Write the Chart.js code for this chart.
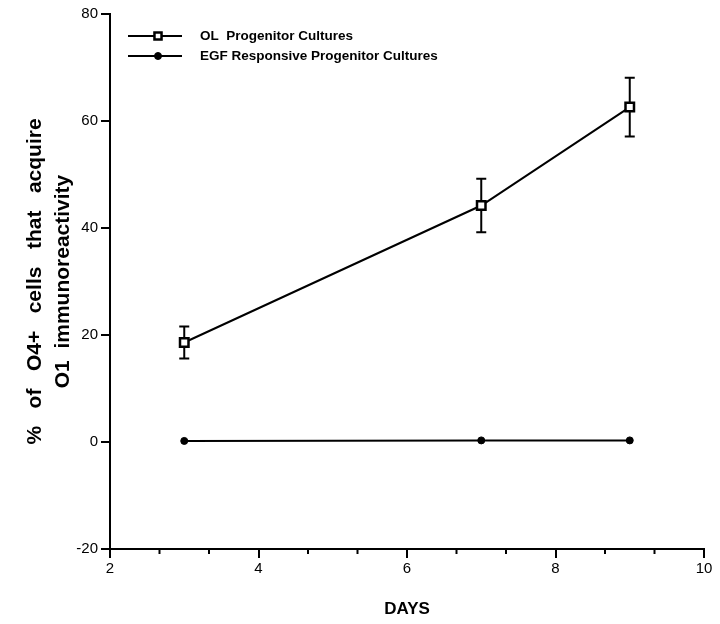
<!DOCTYPE html>
<html>
<head>
<meta charset="utf-8">
<script src="https://cdn.jsdelivr.net/npm/chart.js@4.4.0/dist/chart.umd.min.js"></script>
<style>
  html, body { margin: 0; padding: 0; background: #fff; }
  #wrap { width: 720px; height: 624px; }
</style>
</head>
<body>
<div id="wrap"><canvas id="chart" width="720" height="624"></canvas></div>
<script>
// Data
const days = [3, 7, 9];
const olProgenitor = [18.6, 44.2, 62.6];
const olError = [3.0, 5.0, 5.5];
const egfProgenitor = [0.2, 0.3, 0.3];
const seriesNames = ["OL  Progenitor Cultures", "EGF Responsive Progenitor Cultures"];
const yTitle = ["%   of   O4+   cells   that   acquire", "O1  immunoreactivity"];
const xTitle = "DAYS";

const FONT = "'Liberation Sans', Arial, Helvetica, sans-serif";

// error bars for the OL series
const errorBars = {
  id: "errorBars",
  beforeDatasetsDraw(chart) {
    const { ctx, scales: { x, y } } = chart;
    ctx.save();
    ctx.strokeStyle = "#000";
    ctx.lineWidth = 2;
    days.forEach((d, i) => {
      const px = x.getPixelForValue(d);
      const top = y.getPixelForValue(olProgenitor[i] + olError[i]);
      const bot = y.getPixelForValue(olProgenitor[i] - olError[i]);
      ctx.beginPath();
      ctx.moveTo(px, top); ctx.lineTo(px, bot);
      ctx.moveTo(px - 5, top); ctx.lineTo(px + 5, top);
      ctx.moveTo(px - 5, bot); ctx.lineTo(px + 5, bot);
      ctx.stroke();
    });
    ctx.restore();
  }
};

// minor ticks on the x axis, and the legend inside the plot
const extras = {
  id: "extras",
  afterDraw(chart) {
    const { ctx, scales: { x }, chartArea } = chart;
    ctx.save();
    ctx.strokeStyle = "#000";
    ctx.lineWidth = 2;
    for (let k = 1; k < 12; k++) {
      if (k % 3 === 0) continue;
      const px = x.getPixelForValue(2 + k * 2 / 3);
      ctx.beginPath();
      ctx.moveTo(px, chartArea.bottom);
      ctx.lineTo(px, chartArea.bottom + 5);
      ctx.stroke();
    }

    // legend
    chart.data.datasets.forEach((ds, i) => {
      const ly = chartArea.top + 22 + i * 20;
      const lx = chartArea.left + 18;
      ctx.strokeStyle = "#000";
      ctx.lineWidth = 2;
      ctx.beginPath();
      ctx.moveTo(lx, ly); ctx.lineTo(lx + 54, ly);
      ctx.stroke();
      ctx.fillStyle = ds.pointBackgroundColor;
      ctx.strokeStyle = ds.pointBorderColor;
      ctx.lineWidth = ds.pointBorderWidth;
      const r = ds.pointStyle === "rect" ? ds.pointRadius - 1 : ds.pointRadius;
      Chart.helpers.drawPoint(ctx, { pointStyle: ds.pointStyle, radius: r, borderWidth: ds.pointBorderWidth, rotation: 0 }, lx + 30, ly);
      ctx.fillStyle = "#000";
      ctx.font = "bold 13.5px " + FONT;
      ctx.textBaseline = "middle";
      ctx.fillText(ds.label, lx + 72, ly);
    });
    ctx.restore();
  }
};

new Chart(document.getElementById("chart"), {
  type: "line",
  data: {
    datasets: [
      {
        label: seriesNames[0],
        data: days.map((d, i) => ({ x: d, y: olProgenitor[i] })),
        borderColor: "#000",
        borderWidth: 2,
        pointStyle: "rect",
        pointRadius: 6,
        pointBorderWidth: 2.5,
        pointBackgroundColor: "#fff",
        pointBorderColor: "#000",
        tension: 0
      },
      {
        label: seriesNames[1],
        data: days.map((d, i) => ({ x: d, y: egfProgenitor[i] })),
        borderColor: "#000",
        borderWidth: 2,
        pointStyle: "circle",
        pointRadius: 3.5,
        pointBorderWidth: 1,
        pointBackgroundColor: "#000",
        pointBorderColor: "#000",
        tension: 0
      }
    ]
  },
  options: {
    responsive: false,
    animation: false,
    layout: { padding: { left: 0, right: 16, top: 14, bottom: 0 } },
    plugins: { legend: { display: false }, tooltip: { enabled: false } },
    scales: {
      x: {
        type: "linear",
        min: 2, max: 10,
        afterFit(scale) { scale.height = 75; },
        ticks: { stepSize: 2, color: "#000", font: { family: FONT, size: 15 }, padding: 2 },
        grid: { drawOnChartArea: false, color: "#000", lineWidth: 2, tickLength: 9 },
        border: { color: "#000", width: 2 },
        title: { display: true, text: xTitle, color: "#000", font: { family: FONT, size: 17, weight: "bold" }, padding: { top: 14 } }
      },
      y: {
        min: -20, max: 80,
        afterFit(scale) { scale.width = 110; },
        ticks: { stepSize: 20, color: "#000", font: { family: FONT, size: 15 }, padding: 3 },
        grid: { drawOnChartArea: false, color: "#000", lineWidth: 2, tickLength: 9 },
        border: { color: "#000", width: 2 },
        title: { display: true, text: yTitle, color: "#000", font: { family: FONT, size: 21, weight: "bold", lineHeight: 1.3 }, padding: { top: 22 } }
      }
    }
  },
  plugins: [errorBars, extras]
});
</script>
</body>
</html>
